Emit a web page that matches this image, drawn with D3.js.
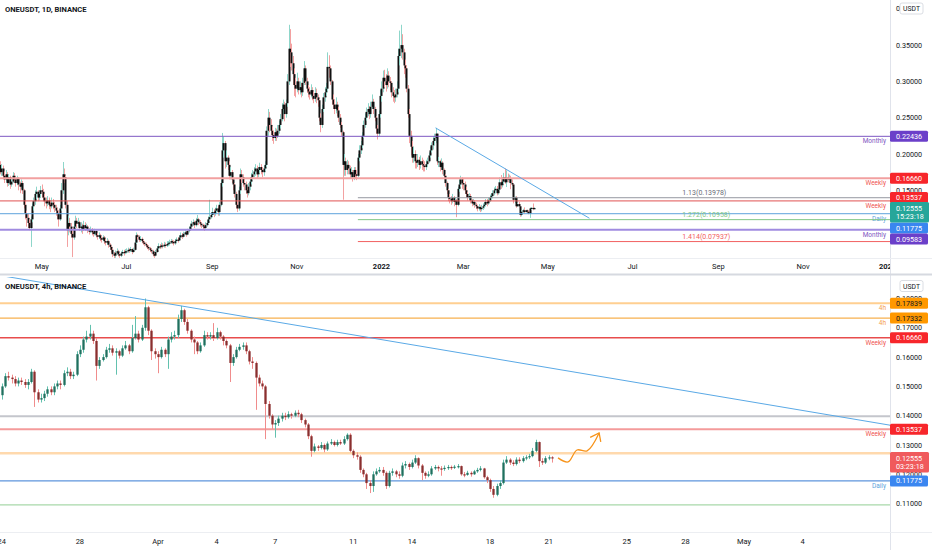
<!DOCTYPE html>
<html>
<head>
<meta charset="utf-8">
<script src="https://cdnjs.cloudflare.com/ajax/libs/d3/7.8.5/d3.min.js"></script>
<style>
  body { margin: 0; background: #fff; }
  svg { display: block; font-family: Roboto, "DejaVu Sans", sans-serif; }
</style>
</head>
<body>
<div id="chart"></div>
<script>
// ---------- daily candles, 2021-04-01 .. 2022-04-21 (open = previous close) ----------
var dailyStart = '2021-04-01'
var dailyFirstOpen = 0.185
var dailyClose = [
  // Apr 2021
  0.175,0.180,0.170,0.165,0.172,0.160,0.168,0.158,0.162,0.170,0.165,0.160,0.166,0.158,0.155,0.160,0.150,0.130,0.118,0.112,0.105,0.098,0.110,0.128,0.135,0.145,0.148,0.140,0.145,0.150,
  // May
  0.148,0.140,0.135,0.132,0.136,0.130,0.128,0.133,0.130,0.126,0.122,0.118,0.110,0.125,0.150,0.172,0.168,0.130,0.095,0.105,0.100,0.090,0.085,0.100,0.108,0.104,0.106,0.098,0.100,0.096,0.102,
  // Jun
  0.098,0.100,0.095,0.093,0.096,0.092,0.090,0.094,0.088,0.086,0.088,0.084,0.082,0.085,0.080,0.078,0.080,0.075,0.072,0.068,0.062,0.060,0.064,0.066,0.062,0.060,0.063,0.065,0.064,0.066,
  // Jul
  0.066,0.068,0.067,0.069,0.065,0.068,0.078,0.088,0.086,0.082,0.083,0.080,0.078,0.076,0.074,0.072,0.070,0.068,0.066,0.062,0.060,0.065,0.070,0.073,0.072,0.074,0.073,0.075,0.074,0.076,0.077,
  // Aug
  0.078,0.080,0.079,0.077,0.080,0.082,0.081,0.085,0.088,0.086,0.090,0.092,0.089,0.094,0.096,0.100,0.104,0.106,0.102,0.108,0.110,0.106,0.104,0.102,0.100,0.098,0.102,0.105,0.110,0.113,0.116,
  // Sep
  0.120,0.118,0.122,0.125,0.120,0.130,0.160,0.205,0.215,0.190,0.195,0.185,0.170,0.175,0.165,0.158,0.145,0.130,0.125,0.150,0.172,0.168,0.160,0.158,0.150,0.146,0.155,0.162,0.168,0.172,
  // Oct
  0.176,0.180,0.172,0.178,0.182,0.178,0.175,0.180,0.185,0.232,0.250,0.240,0.232,0.226,0.222,0.230,0.225,0.232,0.240,0.248,0.262,0.268,0.255,0.270,0.300,0.345,0.340,0.325,0.310,0.295,0.290,
  // Nov
  0.300,0.288,0.292,0.285,0.298,0.318,0.300,0.290,0.286,0.282,0.288,0.280,0.276,0.284,0.278,0.274,0.250,0.240,0.262,0.278,0.285,0.290,0.320,0.318,0.300,0.275,0.268,0.262,0.268,0.260,
  // Dec
  0.250,0.240,0.230,0.185,0.190,0.178,0.185,0.180,0.172,0.175,0.168,0.178,0.172,0.170,0.195,0.205,0.212,0.225,0.240,0.250,0.258,0.262,0.255,0.265,0.272,0.262,0.250,0.235,0.228,0.255,0.280,
  // Jan 2022
  0.290,0.305,0.300,0.295,0.308,0.300,0.298,0.285,0.280,0.278,0.282,0.290,0.335,0.345,0.350,0.340,0.322,0.318,0.290,0.255,0.225,0.210,0.195,0.200,0.190,0.188,0.192,0.185,0.190,0.186,0.184,
  // Feb
  0.182,0.186,0.190,0.198,0.205,0.212,0.218,0.222,0.228,0.190,0.190,0.182,0.188,0.178,0.170,0.160,0.150,0.140,0.138,0.135,0.140,0.134,0.136,0.130,0.152,0.158,0.165,0.160,
  // Mar
  0.158,0.150,0.145,0.140,0.142,0.136,0.132,0.134,0.130,0.128,0.125,0.127,0.124,0.126,0.128,0.130,0.134,0.132,0.136,0.140,0.142,0.146,0.150,0.152,0.146,0.151,0.161,0.157,0.162,0.168,0.161,
  // Apr
  0.1675,0.165,0.1665,0.160,0.158,0.137,0.140,0.128,0.131,0.128,0.116,0.1205,0.1225,0.120,0.1225,0.1205,0.118,0.125,0.1258,0.1255,0.12555
]
var dailyHigh = [
  0.190,0.186,0.184,0.176,0.178,0.175,0.172,0.170,0.166,0.175,0.174,0.168,0.170,0.168,0.162,0.165,0.163,0.152,0.135,0.122,0.118,0.110,0.114,0.132,0.140,0.150,0.155,0.150,0.150,0.156,
  0.158,0.152,0.145,0.140,0.142,0.140,0.135,0.140,0.138,0.134,0.130,0.126,0.122,0.130,0.160,0.189,0.180,0.170,0.135,0.115,0.112,0.105,0.098,0.108,0.115,0.112,0.112,0.108,0.106,0.104,0.108,
  0.106,0.104,0.102,0.098,0.100,0.098,0.095,0.097,0.095,0.091,0.092,0.090,0.087,0.088,0.087,0.083,0.084,0.082,0.077,0.074,0.070,0.065,0.067,0.070,0.068,0.064,0.066,0.068,0.068,0.069,
  0.070,0.071,0.070,0.072,0.070,0.071,0.082,0.092,0.090,0.088,0.087,0.085,0.082,0.080,0.078,0.076,0.074,0.072,0.070,0.068,0.064,0.068,0.073,0.077,0.076,0.078,0.077,0.079,0.078,0.080,0.080,
  0.082,0.083,0.082,0.081,0.083,0.085,0.085,0.088,0.092,0.091,0.093,0.096,0.094,0.097,0.100,0.104,0.108,0.110,0.108,0.112,0.116,0.112,0.109,0.106,0.104,0.103,0.106,0.109,0.114,0.137,0.120,
  0.126,0.124,0.126,0.130,0.128,0.134,0.165,0.229,0.224,0.218,0.205,0.198,0.190,0.182,0.178,0.168,0.160,0.148,0.136,0.155,0.180,0.178,0.172,0.165,0.162,0.155,0.160,0.168,0.174,0.178,
  0.182,0.186,0.184,0.182,0.188,0.186,0.182,0.184,0.190,0.238,0.262,0.258,0.248,0.238,0.232,0.236,0.235,0.240,0.246,0.255,0.270,0.275,0.272,0.275,0.310,0.378,0.372,0.352,0.335,0.318,0.305,
  0.312,0.305,0.300,0.298,0.305,0.328,0.322,0.305,0.295,0.292,0.296,0.292,0.286,0.292,0.290,0.282,0.276,0.256,0.268,0.284,0.292,0.298,0.340,0.336,0.322,0.302,0.282,0.275,0.278,0.272,
  0.265,0.255,0.244,0.232,0.200,0.195,0.192,0.190,0.184,0.182,0.178,0.182,0.182,0.178,0.200,0.212,0.218,0.230,0.246,0.256,0.264,0.270,0.266,0.272,0.282,0.276,0.265,0.252,0.240,0.260,0.288,
  0.300,0.315,0.316,0.310,0.318,0.314,0.306,0.300,0.292,0.288,0.290,0.300,0.345,0.370,0.378,0.365,0.345,0.330,0.322,0.295,0.262,0.232,0.218,0.210,0.205,0.198,0.200,0.196,0.198,0.195,0.192,
  0.190,0.192,0.195,0.202,0.210,0.216,0.224,0.228,0.236,0.226,0.196,0.192,0.194,0.190,0.180,0.172,0.162,0.152,0.145,0.142,0.145,0.142,0.140,0.138,0.155,0.165,0.170,0.168,
  0.166,0.162,0.155,0.148,0.146,0.145,0.138,0.138,0.136,0.133,0.130,0.131,0.129,0.130,0.132,0.134,0.138,0.138,0.140,0.144,0.146,0.150,0.154,0.156,0.156,0.153,0.168,0.171,0.166,0.174,0.180,
  0.1775,0.173,0.1716,0.170,0.165,0.1585,0.1415,0.142,0.132,0.134,0.1285,0.1225,0.1245,0.1265,0.1232,0.1235,0.1228,0.1262,0.1265,0.1318,0.1265
]
var dailyLow = [
  0.172,0.170,0.166,0.160,0.162,0.155,0.156,0.152,0.155,0.160,0.160,0.155,0.157,0.150,0.146,0.152,0.145,0.125,0.110,0.100,0.098,0.095,0.072,0.106,0.122,0.130,0.138,0.135,0.136,0.140,
  0.140,0.135,0.128,0.125,0.128,0.124,0.120,0.125,0.124,0.120,0.115,0.110,0.100,0.108,0.122,0.145,0.160,0.125,0.072,0.088,0.092,0.085,0.058,0.082,0.098,0.098,0.100,0.094,0.092,0.090,0.094,
  0.094,0.095,0.091,0.089,0.091,0.088,0.086,0.088,0.085,0.082,0.083,0.080,0.078,0.080,0.076,0.074,0.075,0.071,0.068,0.064,0.058,0.056,0.057,0.061,0.059,0.057,0.058,0.061,0.060,0.062,
  0.063,0.064,0.064,0.065,0.062,0.064,0.067,0.076,0.082,0.079,0.079,0.077,0.075,0.073,0.071,0.069,0.067,0.065,0.063,0.059,0.057,0.059,0.064,0.068,0.069,0.070,0.070,0.071,0.071,0.072,0.073,
  0.074,0.076,0.076,0.074,0.075,0.078,0.078,0.080,0.084,0.083,0.085,0.088,0.086,0.088,0.092,0.095,0.099,0.101,0.098,0.100,0.105,0.102,0.100,0.098,0.096,0.094,0.097,0.100,0.104,0.108,0.111,
  0.114,0.113,0.115,0.118,0.115,0.115,0.128,0.155,0.195,0.180,0.182,0.178,0.165,0.165,0.160,0.150,0.140,0.125,0.120,0.122,0.145,0.160,0.155,0.150,0.145,0.140,0.143,0.150,0.158,0.164,
  0.168,0.170,0.166,0.168,0.174,0.172,0.168,0.170,0.176,0.182,0.225,0.230,0.226,0.218,0.214,0.218,0.218,0.222,0.228,0.235,0.245,0.255,0.245,0.250,0.265,0.295,0.320,0.315,0.295,0.280,0.278,
  0.285,0.282,0.282,0.278,0.280,0.295,0.295,0.284,0.278,0.275,0.278,0.274,0.270,0.272,0.270,0.265,0.245,0.230,0.236,0.258,0.272,0.280,0.286,0.305,0.295,0.268,0.262,0.255,0.256,0.252,
  0.244,0.236,0.225,0.137,0.170,0.170,0.172,0.172,0.166,0.166,0.162,0.164,0.166,0.164,0.168,0.190,0.200,0.208,0.222,0.236,0.246,0.252,0.248,0.250,0.262,0.255,0.245,0.228,0.220,0.225,0.250,
  0.272,0.285,0.292,0.286,0.290,0.292,0.288,0.278,0.272,0.270,0.272,0.278,0.285,0.322,0.332,0.330,0.310,0.305,0.285,0.250,0.215,0.198,0.188,0.188,0.180,0.180,0.182,0.178,0.180,0.178,0.176,
  0.176,0.178,0.182,0.188,0.195,0.202,0.206,0.212,0.215,0.185,0.182,0.176,0.178,0.172,0.165,0.155,0.145,0.135,0.132,0.130,0.132,0.128,0.130,0.113,0.128,0.148,0.155,0.152,
  0.150,0.145,0.140,0.136,0.137,0.132,0.128,0.129,0.126,0.124,0.121,0.122,0.120,0.121,0.123,0.125,0.128,0.128,0.130,0.134,0.136,0.139,0.143,0.146,0.143,0.144,0.150,0.152,0.154,0.159,0.159,
  0.1545,0.161,0.161,0.1515,0.156,0.132,0.1325,0.126,0.1275,0.1275,0.1136,0.114,0.1185,0.118,0.1195,0.119,0.117,0.112,0.1228,0.1225,0.124
]

// ---------- 4h candles, 2022-03-24 00:00 .. 2022-04-21 04:00 ----------
var h4Start = '2022-03-24T00:00'
var h4FirstOpen = 0.1470
var h4Close = [
  0.1500,0.1535,0.1530,0.1525,0.1510,0.1520,0.1515,0.1505,0.1515,0.1550,0.1480,0.1455,0.1460,0.1475,0.1490,0.1480,0.1500,0.1510,0.1505,0.1545,
  0.1550,0.1535,0.1540,0.1610,0.1625,0.1660,0.1670,0.1680,0.1655,0.1570,0.1590,0.1600,0.1625,0.1630,0.1615,0.1620,0.1605,0.1630,0.1640,0.1620,
  0.1665,0.1680,0.1660,0.1700,0.1770,0.1690,0.1620,0.1610,0.1600,0.1625,0.1610,0.1660,0.1670,0.1675,0.1730,0.1760,0.1720,0.1690,0.1660,0.1650,
  0.1620,0.1640,0.1675,0.1670,0.1675,0.1665,0.1685,0.1670,0.1655,0.1640,0.1580,0.1600,0.1625,0.1635,0.1640,0.1620,0.1585,0.1580,0.1530,0.1510,
  0.1500,0.1440,0.1400,0.1370,0.1375,0.1390,0.1400,0.1395,0.1405,0.1400,0.1410,0.1405,0.1385,0.1370,0.1330,0.1280,0.1295,0.1290,0.1300,0.1285,
  0.1305,0.1310,0.1300,0.1310,0.1305,0.1320,0.1335,0.1280,0.1265,0.1260,0.1215,0.1200,0.1170,0.1160,0.1200,0.1210,0.1215,0.1205,0.1160,0.1205,
  0.1210,0.1200,0.1195,0.1230,0.1235,0.1225,0.1240,0.1255,0.1230,0.1205,0.1195,0.1200,0.1220,0.1225,0.1220,0.1218,0.1222,0.1225,0.1222,0.1226,
  0.1228,0.1200,0.1198,0.1205,0.1200,0.1210,0.1215,0.1220,0.1190,0.1180,0.1150,0.1130,0.1160,0.1170,0.1240,0.1250,0.1240,0.1235,0.1250,0.1245,
  0.1255,0.1258,0.1262,0.1280,0.1310,0.1245,0.1240,0.1255,0.1258,0.12555
]
var h4High = [
  0.1510,0.1545,0.1550,0.1540,0.1535,0.1530,0.1530,0.1525,0.1525,0.1560,0.1555,0.1490,0.1475,0.1485,0.1500,0.1500,0.1510,0.1520,0.1520,0.1555,
  0.1565,0.1560,0.1550,0.1620,0.1640,0.1670,0.1690,0.1710,0.1690,0.1665,0.1600,0.1610,0.1635,0.1645,0.1640,0.1630,0.1625,0.1640,0.1655,0.1645,
  0.1710,0.1740,0.1690,0.1710,0.1800,0.1775,0.1695,0.1630,0.1620,0.1635,0.1630,0.1670,0.1685,0.1690,0.1745,0.1775,0.1765,0.1730,0.1695,0.1670,
  0.1655,0.1650,0.1690,0.1685,0.1685,0.1716,0.1700,0.1690,0.1675,0.1660,0.1645,0.1610,0.1635,0.1645,0.1650,0.1650,0.1625,0.1600,0.1585,0.1540,
  0.1520,0.1505,0.1450,0.1405,0.1385,0.1400,0.1410,0.1410,0.1415,0.1410,0.1418,0.1420,0.1410,0.1390,0.1375,0.1335,0.1305,0.1300,0.1310,0.1305,
  0.1312,0.1320,0.1315,0.1318,0.1318,0.1330,0.1340,0.1340,0.1285,0.1275,0.1265,0.1220,0.1205,0.1180,0.1210,0.1220,0.1225,0.1225,0.1210,0.1212,
  0.1220,0.1215,0.1210,0.1240,0.1245,0.1240,0.1250,0.1265,0.1258,0.1235,0.1210,0.1210,0.1228,0.1232,0.1230,0.1228,0.1230,0.1232,0.1230,0.1232,
  0.1235,0.1230,0.1208,0.1212,0.1210,0.1215,0.1222,0.1228,0.1222,0.1195,0.1185,0.1160,0.1168,0.1180,0.1250,0.1262,0.1255,0.1248,0.1258,0.1258,
  0.1262,0.1265,0.1270,0.1290,0.1318,0.1312,0.1255,0.1262,0.1265,0.1262
]
var h4Low = [
  0.1455,0.1495,0.1520,0.1510,0.1500,0.1500,0.1505,0.1495,0.1490,0.1510,0.1430,0.1445,0.1445,0.1450,0.1465,0.1470,0.1470,0.1490,0.1490,0.1500,
  0.1535,0.1525,0.1525,0.1535,0.1600,0.1615,0.1650,0.1660,0.1645,0.1520,0.1560,0.1585,0.1595,0.1615,0.1605,0.1540,0.1595,0.1600,0.1625,0.1610,
  0.1615,0.1660,0.1650,0.1655,0.1690,0.1675,0.1590,0.1595,0.1545,0.1595,0.1600,0.1560,0.1650,0.1660,0.1665,0.1720,0.1710,0.1680,0.1650,0.1610,
  0.1610,0.1615,0.1635,0.1660,0.1660,0.1655,0.1660,0.1660,0.1640,0.1630,0.1515,0.1570,0.1595,0.1620,0.1625,0.1610,0.1575,0.1560,0.1420,0.1500,
  0.1490,0.1320,0.1390,0.1355,0.1325,0.1365,0.1380,0.1385,0.1390,0.1390,0.1395,0.1395,0.1375,0.1360,0.1320,0.1260,0.1275,0.1280,0.1285,0.1275,
  0.1280,0.1300,0.1295,0.1295,0.1300,0.1300,0.1315,0.1275,0.1255,0.1250,0.1205,0.1190,0.1150,0.1136,0.1140,0.1195,0.1205,0.1195,0.1150,0.1155,
  0.1195,0.1190,0.1185,0.1190,0.1220,0.1215,0.1220,0.1235,0.1220,0.1180,0.1185,0.1190,0.1195,0.1215,0.1210,0.1195,0.1212,0.1215,0.1215,0.1218,
  0.1220,0.1195,0.1190,0.1195,0.1192,0.1198,0.1205,0.1210,0.1185,0.1170,0.1140,0.1120,0.1125,0.1150,0.1165,0.1235,0.1232,0.1228,0.1230,0.1238,
  0.1240,0.1248,0.1252,0.1258,0.1275,0.1225,0.1232,0.1235,0.1248,0.1240
]

// ---------- axes ----------
var dailyTickDates = ['2021-05-01','2021-07-01','2021-09-01','2021-11-01','2022-01-01','2022-03-01','2022-05-01','2022-07-01','2022-09-01','2022-11-01','2023-01-01']
var dailyTickLabels = ['May','Jul','Sep','Nov','2022','Mar','May','Jul','Sep','Nov','2023']
var h4TickDates = ['2022-03-24','2022-03-28','2022-04-01','2022-04-04','2022-04-07','2022-04-11','2022-04-14','2022-04-18','2022-04-21','2022-04-25','2022-04-28','2022-05-01','2022-05-04']
var h4TickLabels = ['24','28','Apr','4','7','11','14','18','21','25','28','May','4']
var dailyPriceTicks = [0.40, 0.35, 0.30, 0.25, 0.20, 0.15, 0.10]
var h4PriceTicks = [0.18, 0.17, 0.16, 0.15, 0.14, 0.13, 0.12, 0.11]

// ---------- drawn levels ----------
var dailyLevelPrices = [0.22436, 0.16660, 0.13537, 0.11775, 0.09583]
var dailyLevelNotes  = ['Monthly', 'Weekly', 'Weekly', 'Daily', 'Monthly']
var fibRatios = ['1.13', '1.272', '1.414']
var fibPrices = [0.13978, 0.10958, 0.07937]
var fibStart = '2021-12-15'
var fibLabelDate = '2022-08-06'

var h4LevelPrices = [0.17839, 0.17332, 0.16660, 0.13978, 0.13537, 0.1272, 0.11775, 0.10958]
var h4LevelNotes  = ['4h', '4h', 'Weekly', '', 'Weekly', '', 'Daily', '']
var h4LevelTagged = [true, true, true, false, true, false, true, false]

var trendDates = ['2022-02-09', '2022-05-31']
var trendPrices = [0.2360, 0.1115]

var lastPrice = 0.12555
var dailyCountdown = '15:23:18'
var h4Countdown = '03:23:18'

// projected move drawn on the 4h chart
var arrowTimes = ['2022-04-21T11:30','2022-04-21T23:50','2022-04-22T10:50','2022-04-22T23:15','2022-04-23T14:00']
var arrowPrices = [0.1256, 0.1242, 0.1283, 0.1280, 0.1341]
var headTimes = ['2022-04-23T03:00','2022-04-23T14:00','2022-04-23T16:00']
var headPrices = [0.1326, 0.1341, 0.1311]

// ================= drawing =================
var W = 932, H = 550, axisX = 890
var parseDay = d3.utcParse('%Y-%m-%d')
var parseHour = d3.utcParse('%Y-%m-%dT%H:%M')
var fmt = d3.format('.5f')

var svg = d3.select('#chart').append('svg').attr('width', W).attr('height', H)
svg.append('rect').attr('width', W).attr('height', H).attr('fill', '#fff')

function candles(start, stepHours, firstOpen, close, high, low){
  return close.map(function(c, i){
    var o = i == 0 ? firstOpen : close[i-1]
    return {t: d3.utcHour.offset(start, stepHours*i), o: o, c: c,
            h: Math.max(high[i], o, c), l: Math.min(low[i], o, c)}
  })
}

var dailyData = candles(parseDay(dailyStart), 24, dailyFirstOpen, dailyClose, dailyHigh, dailyLow)
var h4Data = candles(parseHour(h4Start), 4, h4FirstOpen, h4Close, h4High, h4Low)

// pane geometry
var pane1 = {top: 0, bottom: 258, axisY: 269}
var pane2 = {top: 277, bottom: 532, axisY: 544}

var x1 = d3.scaleUtc().domain([parseDay('2021-05-01'), parseDay('2022-11-01')]).range([41.7, 803])
var y1 = d3.scaleLinear().domain([0.20, 0.35]).range([154, 45.1])
var x2 = d3.scaleUtc().domain([parseDay('2022-04-01'), parseDay('2022-05-01')]).range([158, 744])
var y2 = d3.scaleLinear().domain([0.14, 0.17]).range([415.7, 327.8])

var defs = svg.append('defs')
defs.append('clipPath').attr('id', 'clip1').append('rect')
  .attr('x', 0).attr('y', pane1.top).attr('width', axisX).attr('height', pane1.bottom - pane1.top)
defs.append('clipPath').attr('id', 'clip2').append('rect')
  .attr('x', 0).attr('y', pane2.top).attr('width', axisX).attr('height', pane2.bottom - pane2.top)
defs.append('clipPath').attr('id', 'clipT').append('rect')
  .attr('x', 0).attr('y', 0).attr('width', axisX).attr('height', H)

// frame lines
svg.append('line').attr('x1', axisX + 0.5).attr('x2', axisX + 0.5).attr('y1', 0).attr('y2', H).attr('stroke', '#e0e3eb')
svg.append('line').attr('x1', 0).attr('x2', W).attr('y1', pane1.bottom + 0.5).attr('y2', pane1.bottom + 0.5).attr('stroke', '#eceef2')
svg.append('line').attr('x1', 0).attr('x2', W).attr('y1', 274.5).attr('y2', 274.5).attr('stroke', '#d6d9e0').attr('stroke-width', 2)
svg.append('line').attr('x1', 0).attr('x2', W).attr('y1', pane2.bottom + 0.5).attr('y2', pane2.bottom + 0.5).attr('stroke', '#eceef2')

function drawCandles(g, data, x, y, bodyW, style){
  var c = g.selectAll('g.c').data(data).enter().append('g').attr('class', 'c')
  c.append('line')
    .attr('x1', function(d){ return Math.round(x(d.t)) + 0.5 })
    .attr('x2', function(d){ return Math.round(x(d.t)) + 0.5 })
    .attr('y1', function(d){ return y(d.h) })
    .attr('y2', function(d){ return y(d.l) })
    .attr('stroke', function(d){ return d.c >= d.o ? style.upWick : style.downWick })
    .attr('stroke-width', 1)
  c.append('rect')
    .attr('x', function(d){ return Math.round(x(d.t)) + 0.5 - bodyW/2 })
    .attr('y', function(d){ return y(Math.max(d.o, d.c)) })
    .attr('width', bodyW)
    .attr('height', function(d){ return Math.max(1.2, Math.abs(y(d.o) - y(d.c))) })
    .attr('fill', function(d){ return d.c >= d.o ? style.upBody : style.downBody })
}

function hline(g, y, x0, color, w){
  g.append('line').attr('x1', x0).attr('x2', axisX).attr('y1', y).attr('y2', y)
    .attr('stroke', color).attr('stroke-width', w)
}

function note(g, y, text, color){
  g.append('text').attr('x', axisX - 4).attr('y', y + 7).attr('text-anchor', 'end')
    .attr('font-size', 6.5).attr('fill', color).text(text)
}

function priceAxis(ticks, y, top, bottom){
  ticks.forEach(function(v){
    var yy = y(v)
    if (yy < top - 4 || yy > bottom) return
    svg.append('text').attr('x', 896).attr('y', yy + 2.5).attr('font-size', 7.2).attr('fill', '#131722').text(fmt(v))
  })
}

function timeAxis(dates, labels, x, yPos, parse){
  var g = svg.append('g').attr('clip-path', 'url(#clipT)')
  dates.forEach(function(s, i){
    var xx = x(parse(s))
    var bold = labels[i].length == 4
    g.append('text').attr('x', xx).attr('y', yPos).attr('text-anchor', 'middle')
      .attr('font-size', 7.5).attr('font-weight', bold ? 'bold' : 'normal').attr('fill', '#131722')
      .text(labels[i])
  })
}

// tags on the price axis, pushed apart so they do not overlap
function drawTags(tags, fixed){
  var above = tags.filter(function(t){ return t.y < fixed.y }).sort(function(a, b){ return b.y - a.y })
  var below = tags.filter(function(t){ return t.y >= fixed.y }).sort(function(a, b){ return a.y - b.y })
  var edge = fixed.y - 6
  above.forEach(function(t){ var yy = Math.min(t.y, edge - 4.5); t.py = yy; edge = yy - 5.5 })
  edge = fixed.y + 14.5
  below.forEach(function(t){ var yy = Math.max(t.y, edge + 5.5); t.py = yy; edge = yy + 5.5 })
  tags.forEach(function(t){
    svg.append('rect').attr('x', axisX).attr('y', t.py - 5.5).attr('width', 38).attr('height', 11).attr('rx', 1.5).attr('fill', t.bg)
    svg.append('text').attr('x', 896).attr('y', t.py + 2.6).attr('font-size', 7.2).attr('fill', t.fg || '#fff').text(fmt(t.v))
  })
  svg.append('rect').attr('x', axisX).attr('y', fixed.y - 6).attr('width', 39).attr('height', 20.5).attr('rx', 1.5).attr('fill', fixed.bg)
  svg.append('text').attr('x', 896).attr('y', fixed.y + 2.6).attr('font-size', 7.2).attr('fill', '#fff').text(fmt(fixed.v))
  svg.append('text').attr('x', 896).attr('y', fixed.y + 11.4).attr('font-size', 7.2).attr('fill', '#fff').text(fixed.sub)
}

function usdtButton(y){
  svg.append('rect').attr('x', 900).attr('y', y).attr('width', 23).attr('height', 11).attr('rx', 2)
    .attr('fill', '#fff').attr('stroke', '#d1d4dc').attr('stroke-width', 0.8)
  svg.append('text').attr('x', 911.5).attr('y', y + 8).attr('text-anchor', 'middle').attr('font-size', 6.8).attr('fill', '#131722').text('USDT')
}

// ---------- pane 1: daily ----------
var g1 = svg.append('g').attr('clip-path', 'url(#clip1)')
drawCandles(g1, dailyData, x1, y1, 2, {upBody: '#111', downBody: '#111', upWick: '#8ed6ca', downWick: '#f3a1a1'})

var dailyLevelStyle = [['#7e57c2', 1], ['#f2a0a0', 2.2], ['#e05252', 1], ['#5ea3dc', 1], ['#a08be0', 2]]
var dailyNoteColor = ['#7e57c2', '#ef5350', '#ef5350', '#5ea3dc', '#7e57c2']
dailyLevelPrices.forEach(function(v, i){
  hline(g1, y1(v), 0, dailyLevelStyle[i][0], dailyLevelStyle[i][1])
  note(g1, y1(v), dailyLevelNotes[i], dailyNoteColor[i])
})

var fibColors = ['#9598a1', '#81c784', '#f26060']
fibPrices.forEach(function(v, i){
  hline(g1, y1(v), x1(parseDay(fibStart)), fibColors[i], 1)
  g1.append('text').attr('x', x1(parseDay(fibLabelDate))).attr('y', y1(v) - 3)
    .attr('font-size', 7).attr('fill', fibColors[i] == '#9598a1' ? '#6a6d78' : fibColors[i])
    .text(fibRatios[i] + '(' + fmt(v) + ')')
})

var trend1 = trendDates.map(function(s, i){ return [x1(parseDay(s)), y1(trendPrices[i])] })
g1.append('path').attr('d', d3.line()(trend1)).attr('stroke', '#5aa9e6').attr('stroke-width', 1).attr('fill', 'none')

svg.append('text').attr('x', 5).attr('y', 12).attr('font-size', 7.6).attr('font-weight', 'bold').attr('fill', '#131722').text('ONEUSDT, 1D, BINANCE')

priceAxis(dailyPriceTicks, y1, pane1.top, pane1.bottom)
usdtButton(3)
timeAxis(dailyTickDates, dailyTickLabels, x1, pane1.axisY, parseDay)
var dailyTagBg = ['#6b3fc9', '#f7262b', '#f7262b', '#3a86f0', '#6b3fc9']
drawTags(dailyLevelPrices.map(function(v, i){ return {v: v, y: y1(v), bg: dailyTagBg[i]} }),
         {v: lastPrice, y: y1(lastPrice), bg: '#26a69a', sub: dailyCountdown})

// ---------- pane 2: 4h ----------
var g2 = svg.append('g').attr('clip-path', 'url(#clip2)')
var h4LevelStyle = [['#ffcf91', 2], ['#f7b04f', 1.3], ['#e84c4c', 1.3], ['#c4c6cc', 2], ['#f49b9b', 2], ['#ffd9ad', 2.5], ['#5e95dc', 1.3], ['#a8d8aa', 1.3]]
h4LevelPrices.forEach(function(v, i){
  hline(g2, y2(v), 0, h4LevelStyle[i][0], h4LevelStyle[i][1])
})
drawCandles(g2, h4Data, x2, y2, 2.3, {upBody: '#20705f', downBody: '#8a2f2f', upWick: '#62c1ae', downWick: '#f08c8c'})

var h4NoteColor = ['#f5a04a', '#f5a04a', '#ef5350', '', '#ef5350', '', '#5ea3dc', '']
h4LevelPrices.forEach(function(v, i){
  if (h4LevelNotes[i]) note(g2, y2(v), h4LevelNotes[i], h4NoteColor[i])
})

var trend2 = trendDates.map(function(s, i){ return [x2(parseDay(s)), y2(trendPrices[i])] })
g2.append('path').attr('d', d3.line()(trend2)).attr('stroke', '#5aa9e6').attr('stroke-width', 1).attr('fill', 'none')

var arrowPts = arrowTimes.map(function(s, i){ return [x2(parseHour(s)), y2(arrowPrices[i])] })
g2.append('path').attr('d', d3.line().curve(d3.curveCatmullRom)(arrowPts))
  .attr('stroke', '#f7931a').attr('stroke-width', 1.3).attr('fill', 'none')
var headPts = headTimes.map(function(s, i){ return [x2(parseHour(s)), y2(headPrices[i])] })
g2.append('path').attr('d', d3.line()(headPts)).attr('stroke', '#f7931a').attr('stroke-width', 1.3).attr('fill', 'none')

svg.append('text').attr('x', 5).attr('y', 289).attr('font-size', 7.6).attr('font-weight', 'bold').attr('fill', '#131722').text('ONEUSDT, 4h, BINANCE')

priceAxis(h4PriceTicks, y2, pane2.top + 14, pane2.bottom)
usdtButton(280.5)
timeAxis(h4TickDates, h4TickLabels, x2, pane2.axisY, parseDay)
var h4TagBg = ['#ff9800', '#ff9800', '#f7262b', '', '#f7262b', '', '#3a86f0', '']
var h4TagFg = ['#131722', '#131722', '#fff', '', '#fff', '', '#fff', '']
var h4Tags = []
h4LevelPrices.forEach(function(v, i){
  if (h4LevelTagged[i]) h4Tags.push({v: v, y: y2(v), bg: h4TagBg[i], fg: h4TagFg[i]})
})
drawTags(h4Tags, {v: lastPrice, y: y2(lastPrice), bg: '#f05a5c', sub: h4Countdown})
</script>
</body>
</html>
